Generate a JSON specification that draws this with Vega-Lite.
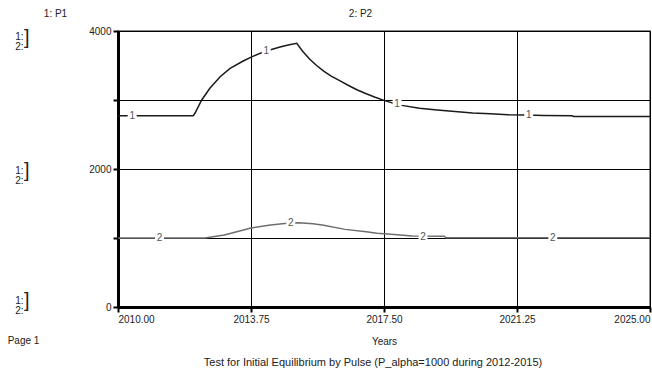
{
  "$schema": "https://vega.github.io/schema/vega-lite/v6.json",
  "width": 532,
  "height": 276,
  "autosize": "none",
  "padding": {"left": 118, "top": 31, "right": 2, "bottom": 66},
  "background": "white",
  "config": {
    "view": {"stroke": "#666", "strokeWidth": 1.5},
    "font": "Liberation Sans",
    "axis": {"labelFont": "Liberation Sans", "titleFont": "Liberation Sans"}
  },
  "title": {
    "text": "Test for Initial Equilibrium by Pulse (P_alpha=1000 during 2012-2015)",
    "orient": "bottom",
    "anchor": "middle",
    "fontSize": 11,
    "fontWeight": "normal",
    "color": "#222",
    "offset": 11,
    "dx": -11
  },
  "datasets": {
    "series": [
      {"series": "P1", "year": 2010.0, "value": 2772},
      {"series": "P1", "year": 2012.12, "value": 2772},
      {"series": "P1", "year": 2012.17, "value": 2807},
      {"series": "P1", "year": 2012.36, "value": 3000},
      {"series": "P1", "year": 2012.59, "value": 3170},
      {"series": "P1", "year": 2012.88, "value": 3338},
      {"series": "P1", "year": 2013.16, "value": 3459},
      {"series": "P1", "year": 2013.53, "value": 3565},
      {"series": "P1", "year": 2013.77, "value": 3625},
      {"series": "P1", "year": 2014.0, "value": 3675},
      {"series": "P1", "year": 2014.28, "value": 3725},
      {"series": "P1", "year": 2014.57, "value": 3768},
      {"series": "P1", "year": 2014.8, "value": 3798},
      {"series": "P1", "year": 2015.04, "value": 3822},
      {"series": "P1", "year": 2015.2, "value": 3710},
      {"series": "P1", "year": 2015.4, "value": 3595},
      {"series": "P1", "year": 2015.6, "value": 3500},
      {"series": "P1", "year": 2015.8, "value": 3420},
      {"series": "P1", "year": 2016.0, "value": 3350},
      {"series": "P1", "year": 2016.25, "value": 3280},
      {"series": "P1", "year": 2016.5, "value": 3210},
      {"series": "P1", "year": 2016.75, "value": 3145},
      {"series": "P1", "year": 2017.0, "value": 3090},
      {"series": "P1", "year": 2017.25, "value": 3040},
      {"series": "P1", "year": 2017.5, "value": 2995},
      {"series": "P1", "year": 2017.75, "value": 2955},
      {"series": "P1", "year": 2018.0, "value": 2922},
      {"series": "P1", "year": 2018.5, "value": 2880},
      {"series": "P1", "year": 2019.0, "value": 2855},
      {"series": "P1", "year": 2019.5, "value": 2835},
      {"series": "P1", "year": 2020.0, "value": 2812},
      {"series": "P1", "year": 2020.5, "value": 2800},
      {"series": "P1", "year": 2021.0, "value": 2787},
      {"series": "P1", "year": 2021.5, "value": 2781},
      {"series": "P1", "year": 2022.0, "value": 2776},
      {"series": "P1", "year": 2022.8, "value": 2772},
      {"series": "P1", "year": 2022.85, "value": 2762},
      {"series": "P1", "year": 2025.0, "value": 2762},
      {"series": "P2", "year": 2010.0, "value": 1000},
      {"series": "P2", "year": 2012.45, "value": 1000},
      {"series": "P2", "year": 2013.0, "value": 1045},
      {"series": "P2", "year": 2013.75, "value": 1145},
      {"series": "P2", "year": 2014.3, "value": 1190},
      {"series": "P2", "year": 2014.7, "value": 1210},
      {"series": "P2", "year": 2015.1, "value": 1222},
      {"series": "P2", "year": 2015.5, "value": 1205},
      {"series": "P2", "year": 2015.8, "value": 1185},
      {"series": "P2", "year": 2016.4, "value": 1125},
      {"series": "P2", "year": 2017.0, "value": 1092},
      {"series": "P2", "year": 2017.3, "value": 1068},
      {"series": "P2", "year": 2017.7, "value": 1053},
      {"series": "P2", "year": 2018.3, "value": 1030},
      {"series": "P2", "year": 2019.2, "value": 1025},
      {"series": "P2", "year": 2019.25, "value": 1003},
      {"series": "P2", "year": 2025.0, "value": 1002}
    ],
    "labels": [
      {"series": "P1", "label": "1", "year": 2010.4, "value": 2772},
      {"series": "P1", "label": "1", "year": 2014.18, "value": 3708},
      {"series": "P1", "label": "1", "year": 2017.87, "value": 2935},
      {"series": "P1", "label": "1", "year": 2021.58, "value": 2780},
      {"series": "P2", "label": "2", "year": 2011.17, "value": 1000},
      {"series": "P2", "label": "2", "year": 2014.87, "value": 1212},
      {"series": "P2", "label": "2", "year": 2018.6, "value": 1012},
      {"series": "P2", "label": "2", "year": 2022.26, "value": 1000}
    ]
  },
  "layer": [
    {
      "data": {"name": "series"},
      "transform": [{"filter": "datum.series == 'P1'"}],
      "mark": {"type": "line", "color": "#1a1a1a", "strokeWidth": 1.5, "clip": true},
      "encoding": {
        "x": {
          "field": "year", "type": "quantitative",
          "scale": {"domain": [2010, 2025], "nice": false, "zero": false},
          "axis": {
            "orient": "bottom",
            "values": [2010, 2013.75, 2017.5, 2021.25, 2025],
            "format": ".2f",
            "labelFlush": true,
            "grid": true, "gridColor": "#000", "gridOpacity": 1, "gridWidth": 1,
            "domainColor": "#000", "domainWidth": 3,
            "tickColor": "#000", "tickSize": 5, "tickWidth": 2,
            "labelFontSize": 10, "labelColor": "#222", "labelPadding": 2,
            "title": "Years", "titleFontSize": 10, "titleFontWeight": "normal", "titleColor": "#222",
            "titleY": 29, "titleBaseline": "top"
          }
        },
        "y": {
          "field": "value", "type": "quantitative",
          "scale": {"domain": [0, 4000], "nice": false, "zero": true},
          "axis": {
            "orient": "left",
            "values": [0, 1000, 2000, 3000, 4000],
            "format": "d",
            "labelExpr": "datum.value % 2000 == 0 ? datum.label : ''",
            "grid": true, "gridColor": "#000", "gridOpacity": 1, "gridWidth": 1,
            "domainColor": "#000", "domainWidth": 3,
            "tickColor": "#000", "tickSize": 5, "tickWidth": 2,
            "labelFontSize": 10, "labelColor": "#222", "labelPadding": 2,
            "title": "1: P1", "titleAngle": 0, "titleAlign": "center", "titleBaseline": "middle",
            "titleX": -63, "titleY": -17.5, "titleFontSize": 10, "titleFontWeight": "normal", "titleColor": "#222"
          }
        }
      }
    },
    {
      "data": {"name": "series"},
      "transform": [{"filter": "datum.series == 'P2'"}],
      "mark": {"type": "line", "color": "#6e6e6e", "strokeWidth": 1.5, "clip": true},
      "encoding": {
        "x": {
          "field": "year", "type": "quantitative",
          "scale": {"domain": [2010, 2025], "nice": false, "zero": false},
          "axis": {
            "orient": "top", "labels": false, "ticks": false, "domain": false, "grid": false,
            "title": "2: P2", "titleX": 242, "titleY": -18, "titleAlign": "center", "titleBaseline": "middle",
            "titleFontSize": 10, "titleFontWeight": "normal", "titleColor": "#222"
          }
        },
        "y": {
          "field": "value", "type": "quantitative",
          "scale": {"domain": [0, 4000], "nice": false, "zero": true},
          "axis": {
            "orient": "left", "offset": 95,
            "values": [0, 2000, 4000],
            "labelExpr": "['1:', '2:']",
            "ticks": false, "domain": false, "grid": false,
            "labelPadding": 0, "labelFontSize": 10, "labelLineHeight": 10, "labelColor": "#222",
            "labelBaseline": "middle",
            "labelOffset": {"condition": [{"test": "datum.value == 4000", "value": 5}, {"test": "datum.value == 0", "value": -7}], "value": 1},
            "title": "Page 1", "titleAngle": 0, "titleAlign": "center", "titleBaseline": "middle",
            "titleX": 0, "titleY": 309, "titleFontSize": 10, "titleFontWeight": "normal", "titleColor": "#222"
          }
        }
      }
    },
    {
      "data": {"name": "labels"},
      "mark": {"type": "point", "shape": "square", "filled": true, "color": "white", "opacity": 1, "size": 80},
      "encoding": {
        "x": {"field": "year", "type": "quantitative", "scale": {"domain": [2010, 2025], "nice": false, "zero": false}, "axis": null},
        "y": {
          "field": "value", "type": "quantitative",
          "scale": {"domain": [0, 4000], "nice": false, "zero": true},
          "axis": {
            "orient": "left", "offset": 89,
            "values": [0, 2000, 4000],
            "labelExpr": "']'",
            "ticks": false, "domain": false, "grid": false,
            "labelPadding": 0, "labelFontSize": 20, "labelColor": "#222",
            "labelBaseline": "middle",
            "labelOffset": {"condition": [{"test": "datum.value == 4000", "value": 6}, {"test": "datum.value == 0", "value": -7}], "value": 1},
            "title": null
          }
        }
      }
    },
    {
      "data": {"name": "labels"},
      "mark": {"type": "text", "fontSize": 10, "color": "#555", "align": "center", "baseline": "middle"},
      "encoding": {
        "x": {"field": "year", "type": "quantitative", "scale": {"domain": [2010, 2025], "nice": false, "zero": false}, "axis": null},
        "y": {"field": "value", "type": "quantitative", "scale": {"domain": [0, 4000], "nice": false, "zero": true}, "axis": null},
        "text": {"field": "label"}
      }
    }
  ],
  "resolve": {"axis": {"x": "independent", "y": "independent"}}
}
